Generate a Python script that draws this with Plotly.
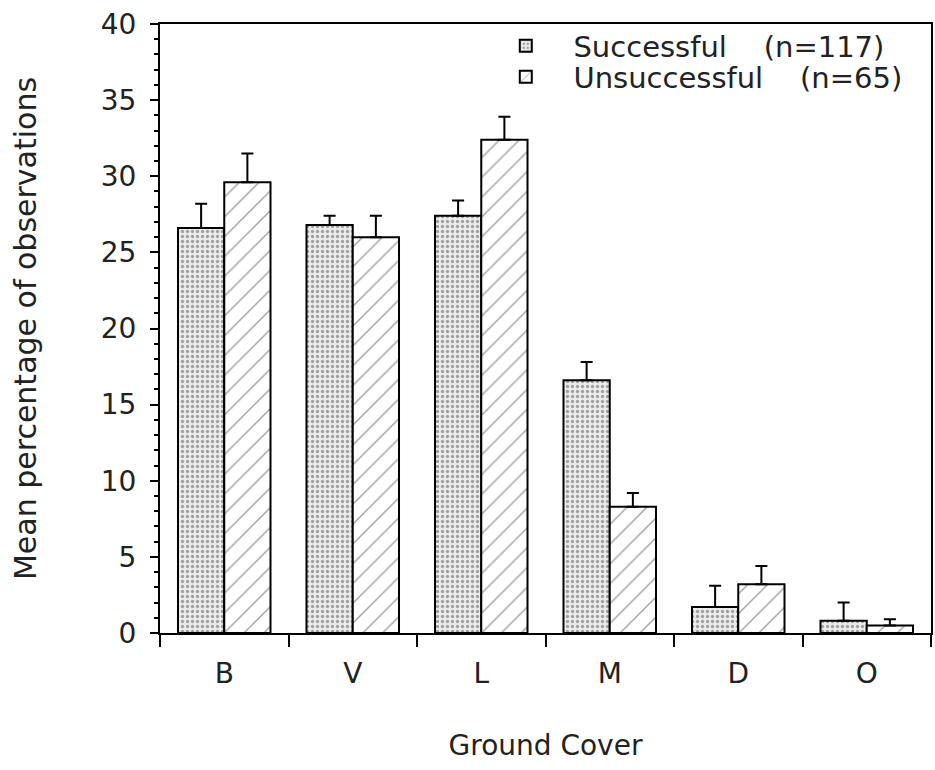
import plotly.graph_objects as go

categories = ["B", "V", "L", "M", "D", "O"]
successful = [26.6, 26.8, 27.4, 16.6, 1.7, 0.8]
successful_err = [1.6, 0.6, 1.0, 1.2, 1.4, 1.2]
unsuccessful = [29.6, 26.0, 32.4, 8.3, 3.2, 0.5]
unsuccessful_err = [1.9, 1.4, 1.5, 0.9, 1.2, 0.4]
y_ticks = [0, 5, 10, 15, 20, 25, 30, 35, 40]

FONT = "DejaVu Sans"
nb = "\u00a0"

fig = go.Figure()
fig.add_trace(go.Bar(
    x=categories, y=successful,
    name=nb * 3 + "Successful" + nb * 4 + "(n=117)",
    legend="legend",
    marker=dict(color="#ececec", line=dict(color="black", width=2),
                pattern=dict(shape=".", fgcolor="#555555", bgcolor="#ececec",
                             size=5, solidity=0.35)),
    error_y=dict(type="data", array=successful_err, arrayminus=[0] * 6,
                 symmetric=False, color="black", thickness=2, width=6),
))
fig.add_trace(go.Bar(
    x=categories, y=unsuccessful,
    name=nb * 3 + "Unsuccessful" + nb * 4 + "(n=65)",
    legend="legend2",
    marker=dict(color="white", line=dict(color="black", width=2),
                pattern=dict(shape="/", fgcolor="#444444", bgcolor="white",
                             size=14, solidity=0.1)),
    error_y=dict(type="data", array=unsuccessful_err, arrayminus=[0] * 6,
                 symmetric=False, color="black", thickness=2, width=6),
))

legend_common = dict(xanchor="left", yanchor="middle", bgcolor="rgba(0,0,0,0)",
                     font=dict(size=29, family=FONT, color="#222222"),
                     itemwidth=30)

fig.update_layout(
    width=935, height=770,
    margin=dict(l=160, r=4, t=24, b=137),
    paper_bgcolor="white", plot_bgcolor="white",
    barmode="group", bargap=0.28, bargroupgap=0,
    font=dict(family=FONT, size=28, color="#222222"),
    showlegend=True,
    legend=dict(x=0.4485, y=0.964, **legend_common),
    legend2=dict(x=0.4485, y=0.913, **legend_common),
    xaxis=dict(
        type="category", showline=True, linecolor="black", linewidth=2,
        mirror=True, ticks="outside", tickson="boundaries", ticklen=12,
        tickwidth=2, tickcolor="black", showgrid=False, automargin=False,
        ticklabelstandoff=14, tickfont=dict(size=28),
        title=dict(text="Ground Cover", standoff=47, font=dict(size=28)),
    ),
    yaxis=dict(
        range=[0, 40], tickvals=y_ticks, showline=True, linecolor="black",
        linewidth=2, mirror=True, ticks="outside", ticklen=8, tickwidth=2,
        tickcolor="black", showgrid=False, zeroline=False, automargin=False,
        ticklabelstandoff=8,
        minor=dict(dtick=1, ticks="outside", ticklen=4, tickwidth=1.5,
                   tickcolor="black", showgrid=False),
        title=dict(text="Mean percentage of observations", standoff=55,
                   font=dict(size=30)),
        tickfont=dict(size=28),
    ),
)

fig.write_html("out.html", config={"displayModeBar": False},
               post_script="document.body.style.margin='0';")
